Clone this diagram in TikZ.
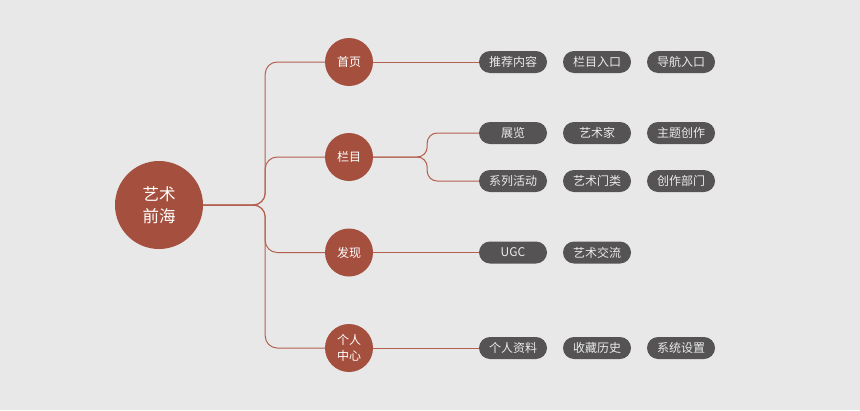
\documentclass[tikz,border=0pt]{standalone}
\usepackage{fontspec}
\setmainfont{Noto Sans CJK SC}
\definecolor{bg}{HTML}{E8E8E8}
\definecolor{rust}{HTML}{A5503E}
\definecolor{link}{HTML}{B3604F}
\definecolor{pillc}{HTML}{555353}
\begin{document}
\begin{tikzpicture}[x=1pt,y=-1pt,
  rootnode/.style={circle,fill=rust,minimum size=88pt,inner sep=0pt,text=white,font=\fontsize{16.5}{22}\selectfont,align=center},
  topic/.style={circle,fill=rust,minimum size=48pt,inner sep=0pt,text=white,font=\fontsize{12}{16}\selectfont,align=center},
  pill/.style={rounded corners=11pt,fill=pillc,minimum width=68pt,minimum height=22pt,inner sep=0pt,text=white!92!black,font=\fontsize{12}{14}\selectfont},
  conn/.style={draw=link,line width=1pt,rounded corners=12pt}]
\fill[bg] (0,0) rectangle (860,410);
\useasboundingbox (0,0) rectangle (860,410);
\node[rootnode] (root) at (159,205) {艺术\\前海};
\node[topic] (t1) at (349,62) {首页};
\node[topic] (t2) at (349,157) {栏目};
\node[topic] (t3) at (349,252.5) {发现};
\node[topic] (t4) at (349,348) {个人\\中心};
\node[pill] (p11) at (513,62) {推荐内容};
\node[pill] (p12) at (597,62) {栏目入口};
\node[pill] (p13) at (681,62) {导航入口};
\node[pill] (p21) at (513,133) {展览};
\node[pill] (p22) at (597,133) {艺术家};
\node[pill] (p23) at (681,133) {主题创作};
\node[pill] (p31) at (513,181) {系列活动};
\node[pill] (p32) at (597,181) {艺术门类};
\node[pill] (p33) at (681,181) {创作部门};
\node[pill] (p41) at (513,252.5) {UGC};
\node[pill] (p42) at (597,252.5) {艺术交流};
\node[pill] (p51) at (513,348) {个人资料};
\node[pill] (p52) at (597,348) {收藏历史};
\node[pill] (p53) at (681,348) {系统设置};
\draw[conn] (root.east) -- ++(62,0) |- (t1.west);
\draw[conn] (root.east) -- ++(62,0) |- (t2.west);
\draw[conn] (root.east) -- ++(62,0) |- (t3.west);
\draw[conn] (root.east) -- ++(62,0) |- (t4.west);
\draw[conn] (t1.east) -- (p11.west);
\draw[conn,rounded corners=10pt] (t2.east) -- ++(54,0) |- (p21.west);
\draw[conn,rounded corners=10pt] (t2.east) -- ++(54,0) |- (p31.west);
\draw[conn] (t3.east) -- (p41.west);
\draw[conn] (t4.east) -- (p51.west);
\end{tikzpicture}
\end{document}
